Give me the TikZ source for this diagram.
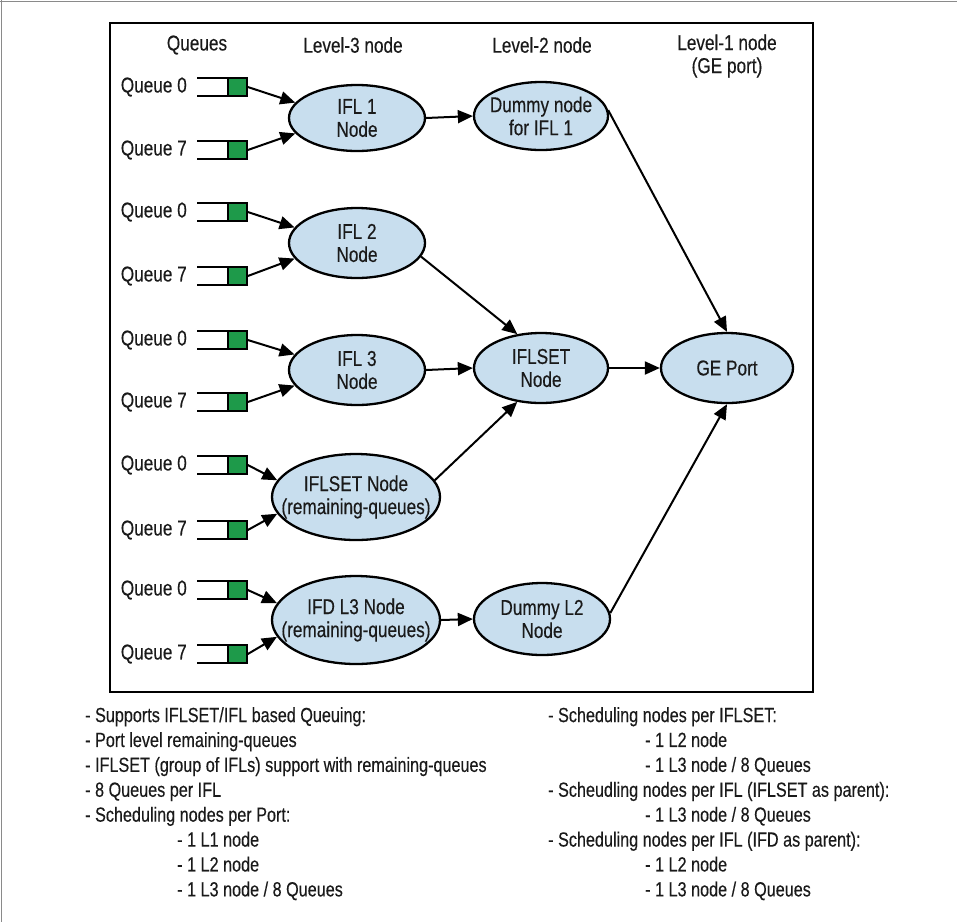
\documentclass[tikz,border=0pt]{standalone}
\usepackage{fontspec}
\setmainfont{Liberation Sans}[FakeStretch=0.8, FakeBold=0.3]
\newfontfamily\notefont{Liberation Sans}[FakeStretch=0.79, FakeBold=0.3]
\usetikzlibrary{shapes.geometric,arrows.meta}
\definecolor{qgreen}{HTML}{1E9A4A}
\definecolor{nodeblue}{HTML}{C8DEEE}
\definecolor{framegray}{HTML}{8A8A8A}
\definecolor{inkdark}{HTML}{1A1A1A}
\begin{document}
\begin{tikzpicture}[x=1pt,y=-1pt,
  txt/.style={font=\fontsize{21.5}{23}\selectfont, text=inkdark, align=center, inner sep=0pt},
  hdr/.style={txt},
  qlabel/.style={txt, anchor=east},
  qbox/.style={draw=black, line width=1.6pt, fill=qgreen, minimum width=19pt, minimum height=17pt, inner sep=0pt},
  qline/.style={line width=2pt},
  bubble/.style={ellipse, draw=black, line width=2.3pt, fill=nodeblue, inner sep=0pt},
  lthree/.style={bubble, minimum width=136pt, minimum height=66pt},
  lwide/.style={bubble, minimum width=168pt, minimum height=86pt},
  ltwo/.style={bubble, minimum width=134pt, minimum height=70pt},
  arr/.style={line width=2pt, -{Triangle[length=15pt,width=13pt]}},
  note/.style={font=\notefont\fontsize{20.5}{24.9}\selectfont, text=inkdark, align=left, anchor=north west, inner sep=0pt}
]
\useasboundingbox (0,0) rectangle (957,922);
% outer frame edges
\draw[framegray, line width=1.5pt] (0,1.5) -- (957,1.5);
\draw[framegray, line width=1.5pt] (1.5,0) -- (1.5,922);
% diagram panel
\draw[line width=2.3pt] (110,23) rectangle (813,692);

% column headings
\node[hdr] (hq)  at (197,45) {Queues};
\node[hdr] (h3)  at (353,45) {Level-3 node};
\node[hdr] (h2)  at (542,45) {Level-2 node};
\node[hdr] (h1)  at (727,56) {Level-1 node\\(GE port)};

% queues: label, green slot and the two rails of the queue
\foreach \n/\y/\t in {a0/87/Queue 0, a7/150/Queue 7, b0/212/Queue 0, b7/276/Queue 7,
                       c0/340/Queue 0, c7/402/Queue 7, d0/465/Queue 0, d7/530/Queue 7,
                       e0/590/Queue 0, e7/654/Queue 7}{
  \node[qlabel] (lab\n) at (187,\y) {\t};
  \node[qbox] (q\n) at (237.5,\y) {};
  \draw[qline] (q\n.north east) -- ++(-51,0);
  \draw[qline] (q\n.south east) -- ++(-51,0);
}

% level-3 nodes (shape first, caption on top)
\node[lthree] (ifl1) at (357,118) {};
\node[lthree, minimum height=70pt] (ifl2) at (357,243) {};
\node[lthree, minimum height=70pt] (ifl3) at (357,370) {};
\node[lwide] (setrq) at (356,497) {};
\node[lwide, minimum height=88pt] (ifdrq) at (356,620) {};
\node[txt] (ifl1t) at (ifl1) {IFL 1\\Node};
\node[txt] (ifl2t) at (ifl2) {IFL 2\\Node};
\node[txt] (ifl3t) at (ifl3) {IFL 3\\Node};
\node[txt] (setrqt) at (setrq) {IFLSET Node\\(remaining-queues)};
\node[txt] (ifdrqt) at (ifdrq) {IFD L3 Node\\(remaining-queues)};

% level-2 nodes
\node[ltwo, minimum height=68pt] (dum1) at (541,116) {};
\node[ltwo] (set2) at (541,368) {};
\node[ltwo, minimum width=136pt, minimum height=72pt] (dum2) at (542,619) {};
\node[txt] (dum1t) at (dum1) {Dummy node\\for IFL 1};
\node[txt] (set2t) at (set2) {IFLSET\\Node};
\node[txt] (dum2t) at (dum2) {Dummy L2\\Node};

% level-1 node
\node[ltwo, minimum width=132pt] (ge) at (727,368) {};
\node[txt] (get) at (ge) {GE Port};

% queue connectors
\draw[arr] (qa0.east) -- (ifl1.166);
\draw[arr] (qa7.east) -- (ifl1.194);
\draw[arr] (qb0.east) -- (ifl2.166);
\draw[arr] (qb7.east) -- (ifl2.194);
\draw[arr] (qc0.east) -- (ifl3.166);
\draw[arr] (qc7.east) -- (ifl3.194);
\draw[arr] (qd0.east) -- (setrq.168);
\draw[arr] (qd7.east) -- (setrq.192);
\draw[arr] (qe0.east) -- (ifdrq.168);
\draw[arr] (qe7.east) -- (ifdrq.192);

% level-3 to level-2
\draw[arr] (ifl1.east) -- (dum1.west);
\draw[arr] (ifl2.-12) -- (set2.125);
\draw[arr] (ifl3.east) -- (set2.west);
\draw[arr] (setrq.12) -- (set2.235);
\draw[arr] (ifdrq.east) -- (dum2.west);

% level-2 to level-1
\draw[arr] (dum1.5) -- (ge.north);
\draw[arr] (set2.east) -- (ge.west);
\draw[arr] (dum2.5) -- (ge.south);

% notes below the panel
\node[note] (notesl) at (85,707) {%
- Supports IFLSET/IFL based Queuing:\\
- Port level remaining-queues\\
- IFLSET (group of IFLs) support with remaining-queues\\
- 8 Queues per IFL\\
- Scheduling nodes per Port:\\
\hspace*{92pt}- 1 L1 node\\
\hspace*{92pt}- 1 L2 node\\
\hspace*{92pt}- 1 L3 node / 8 Queues};
\node[note] (notesr) at (548,707) {%
- Scheduling nodes per IFLSET:\\
\hspace*{97pt}- 1 L2 node\\
\hspace*{97pt}- 1 L3 node / 8 Queues\\
- Scheudling nodes per IFL (IFLSET as parent):\\
\hspace*{97pt}- 1 L3 node / 8 Queues\\
- Scheduling nodes per IFL (IFD as parent):\\
\hspace*{97pt}- 1 L2 node\\
\hspace*{97pt}- 1 L3 node / 8 Queues};
\end{tikzpicture}
\end{document}
